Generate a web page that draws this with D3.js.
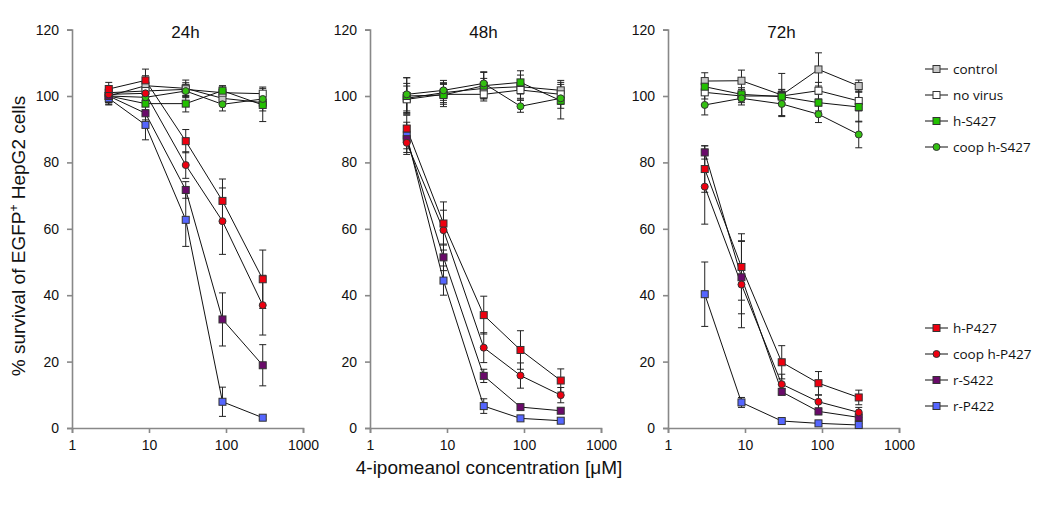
<!DOCTYPE html>
<html><head><meta charset="utf-8">
<script src="https://cdn.jsdelivr.net/npm/d3@7"></script>
<style>body{margin:0;background:#fff}svg{display:block}</style>
</head><body>
<script>
const concentrations = [3, 9, 30, 90, 300];
const panels = ["24h", "48h", "72h"];
const xTicks = [1, 10, 100, 1000];
const yTicks = [0, 20, 40, 60, 80, 100, 120];
const seriesNames = ["control", "no virus", "h-S427", "coop h-S427", "h-P427", "coop h-P427", "r-S422", "r-P422"];

// values per panel: [24h, 48h, 72h]
const control = [[100, 103.1, 102.3, 99.3, 98.0], [99.3, 101, 102.3, 102.8, 101.7], [104.5, 104.6, 100.3, 108.0, 103.0]];
const controlErr = [[2.5, 3, 2.5, 2, 2.5], [4.5, 3, 3, 3.5, 3], [2.5, 3.2, 6.5, 5, 1.8]];
const noVirus = [[101, 101.5, 102.0, 101.0, 100.7], [99, 100.5, 100.5, 101.8, 100.5], [101.1, 100, 100, 101.6, 98.5]];
const noVirusErr = [[2, 2, 2, 2, 2], [4, 3, 2, 3, 3], [2, 2, 2, 2.5, 3]];
const hS427 = [[100, 97.7, 97.7, 101.6, 97.3], [100, 100.3, 103.1, 104.1, 98.6], [102.8, 100.5, 99.8, 98.0, 96.7]];
const hS427Err = [[2, 2, 2.5, 1.5, 5], [5.5, 3.5, 4, 3.5, 5.5], [2, 2, 2, 2.5, 4.5]];
const coopHS427 = [[100, 99.6, 101.5, 97.5, 99.1], [100.5, 101.7, 103.8, 96.9, 99.3], [97.3, 99.3, 97.6, 94.5, 88.4]];
const coopHS427Err = [[2, 2, 2, 2, 2], [5, 3, 3.5, 1.8, 3], [3, 2, 3.5, 2.5, 4]];
const hP427 = [[102.1, 104.7, 86.4, 68.4, 44.8], [90.2, 61.6, 34.0, 23.5, 14.3], [78.0, 48.5, 19.8, 13.5, 9.2]];
const hP427Err = [[2, 3.4, 3.5, 6.6, 8.8], [4, 6.5, 5.7, 5.8, 3.5], [7, 10, 5, 3.5, 2.2]];
const coopHP427 = [[100.5, 100.8, 79.2, 62.3, 37.0], [85.9, 59.6, 24.2, 15.8, 9.9], [72.7, 43.2, 13.2, 7.9, 4.7]];
const coopHP427Err = [[2, 2, 4, 10, 9], [3.5, 6, 4.5, 3.8, 2.3], [11.3, 13, 3, 2, 1.5]];
const rS422 = [[100, 94.8, 71.7, 32.7, 18.9], [87, 51.4, 15.7, 6.3, 5.2], [83.0, 45.4, 10.9, 5.0, 3.2]];
const rS422Err = [[2, 2, 2.5, 8, 6.2], [4, 4, 2, 0.8, 0.8], [2, 11, 1, 1, 1]];
const rP422 = [[99.3, 91.3, 62.7, 7.9, 3.1], [88.1, 44.4, 6.6, 2.9, 2.2], [40.3, 7.7, 2.1, 1.4, 0.9]];
const rP422Err = [[2, 4.5, 8, 4.4, 0.5], [4, 4.4, 2.2, 0.6, 0.5], [9.7, 1.5, 0.5, 0.4, 0.4]];

const seriesValues = [control, noVirus, hS427, coopHS427, hP427, coopHP427, rS422, rP422];
const seriesErrors = [controlErr, noVirusErr, hS427Err, coopHS427Err, hP427Err, coopHP427Err, rS422Err, rP422Err];
const seriesFill = ["#c8c8c8", "#ffffff", "#22c000", "#33c011", "#ee0010", "#ee0010", "#6a0a6a", "#5566ff"];
const seriesShape = ["square", "square", "square", "circle", "square", "circle", "square", "square"];

const W = 1050, H = 506;
const svg = d3.select("body").append("svg").attr("width", W).attr("height", H)
  .style("font-family", "'Liberation Sans', Arial, sans-serif");

const panelLeft = [72, 370, 668];
const plotW = 231, yTop = 29.6, yBot = 428;
const y = d3.scaleLinear().domain([0, 120]).range([yBot, yTop]);
const axisColor = "#888";

function drawMarker(g, shape, fill, cx, cy) {
  if (shape === "square") {
    g.append("rect").attr("x", cx - 3.5).attr("y", cy - 3.5).attr("width", 7).attr("height", 7)
      .attr("fill", fill).attr("stroke", "#333").attr("stroke-width", 1);
  } else {
    g.append("circle").attr("cx", cx).attr("cy", cy).attr("r", 3.5)
      .attr("fill", fill).attr("stroke", "#333").attr("stroke-width", 1);
  }
}

const drawOrder = [0, 1, 2, 3, 7, 6, 5, 4];

panels.forEach((p, pi) => {
  const x = d3.scaleLog().domain([1, 1000]).range([panelLeft[pi], panelLeft[pi] + plotW]);
  const g = svg.append("g");

  const xAxis = g.append("g").attr("transform", `translate(0,${yBot})`)
    .call(d3.axisBottom(x).tickValues(xTicks).tickFormat(d3.format("d")).tickSize(5).tickPadding(7));
  const yAxis = g.append("g").attr("transform", `translate(${panelLeft[pi]},0)`)
    .call(d3.axisLeft(y).tickValues(yTicks).tickSize(5).tickPadding(8));
  [xAxis, yAxis].forEach(a => {
    a.select(".domain").attr("stroke", axisColor).attr("stroke-width", 1.6);
    a.selectAll(".tick line").attr("stroke", axisColor).attr("stroke-width", 1.6);
    a.selectAll("text").attr("fill", "#111").style("font-size", "14px")
      .style("font-family", "'Liberation Sans', Arial, sans-serif");
  });

  g.append("text").attr("x", panelLeft[pi] + plotW / 2 - 2).attr("y", 38)
    .attr("text-anchor", "middle").style("font-size", "17px").attr("fill", "#111").text(p);

  // error bars
  drawOrder.forEach(si => {
    const vals = seriesValues[si][pi], errs = seriesErrors[si][pi];
    concentrations.forEach((c, i) => {
      const cx = x(c), y1 = y(vals[i] + errs[i]), y2 = y(vals[i] - errs[i]);
      g.append("line").attr("x1", cx).attr("x2", cx).attr("y1", y1).attr("y2", y2)
        .attr("stroke", "#222").attr("stroke-width", 1);
      [y1, y2].forEach(yy => g.append("line").attr("x1", cx - 3.5).attr("x2", cx + 3.5)
        .attr("y1", yy).attr("y2", yy).attr("stroke", "#222").attr("stroke-width", 1));
    });
  });
  // lines
  const line = d3.line().x(d => x(d[0])).y(d => y(d[1]));
  drawOrder.forEach(si => {
    const vals = seriesValues[si][pi];
    g.append("path").datum(concentrations.map((c, i) => [c, vals[i]]))
      .attr("d", line).attr("fill", "none").attr("stroke", "#111").attr("stroke-width", 1);
  });
  // markers
  drawOrder.forEach(si => {
    const vals = seriesValues[si][pi];
    concentrations.forEach((c, i) => drawMarker(g, seriesShape[si], seriesFill[si], x(c), y(vals[i])));
  });
});

// axis titles
const yTitle = svg.append("text").attr("transform", "translate(25,236) rotate(-90)").attr("text-anchor", "middle")
  .style("font-size", "19px").attr("fill", "#111");
yTitle.append("tspan").text("% survival of EGFP");
yTitle.append("tspan").attr("dy", "-7").style("font-size", "12px").text("+");
yTitle.append("tspan").attr("dy", "7").text(" HepG2 cells");

svg.append("text").attr("x", 489).attr("y", 474).attr("text-anchor", "middle")
  .style("font-size", "19px").attr("fill", "#111").text("4-ipomeanol concentration [μM]");

// legend
const legendY = [69, 95, 121, 147, 328, 354, 380, 406];
seriesNames.forEach((n, si) => {
  const lg = svg.append("g");
  const ly = legendY[si];
  lg.append("line").attr("x1", 925).attr("x2", 948).attr("y1", ly).attr("y2", ly)
    .attr("stroke", "#111").attr("stroke-width", 1);
  drawMarker(lg, seriesShape[si], seriesFill[si], 936.5, ly);
  lg.append("text").attr("x", 953).attr("y", ly + 4.5).style("font-size", "13.5px")
    .style("font-family", "'Open Sans', Lato, sans-serif").attr("fill", "#111").text(n);
});
</script>
</body></html>
